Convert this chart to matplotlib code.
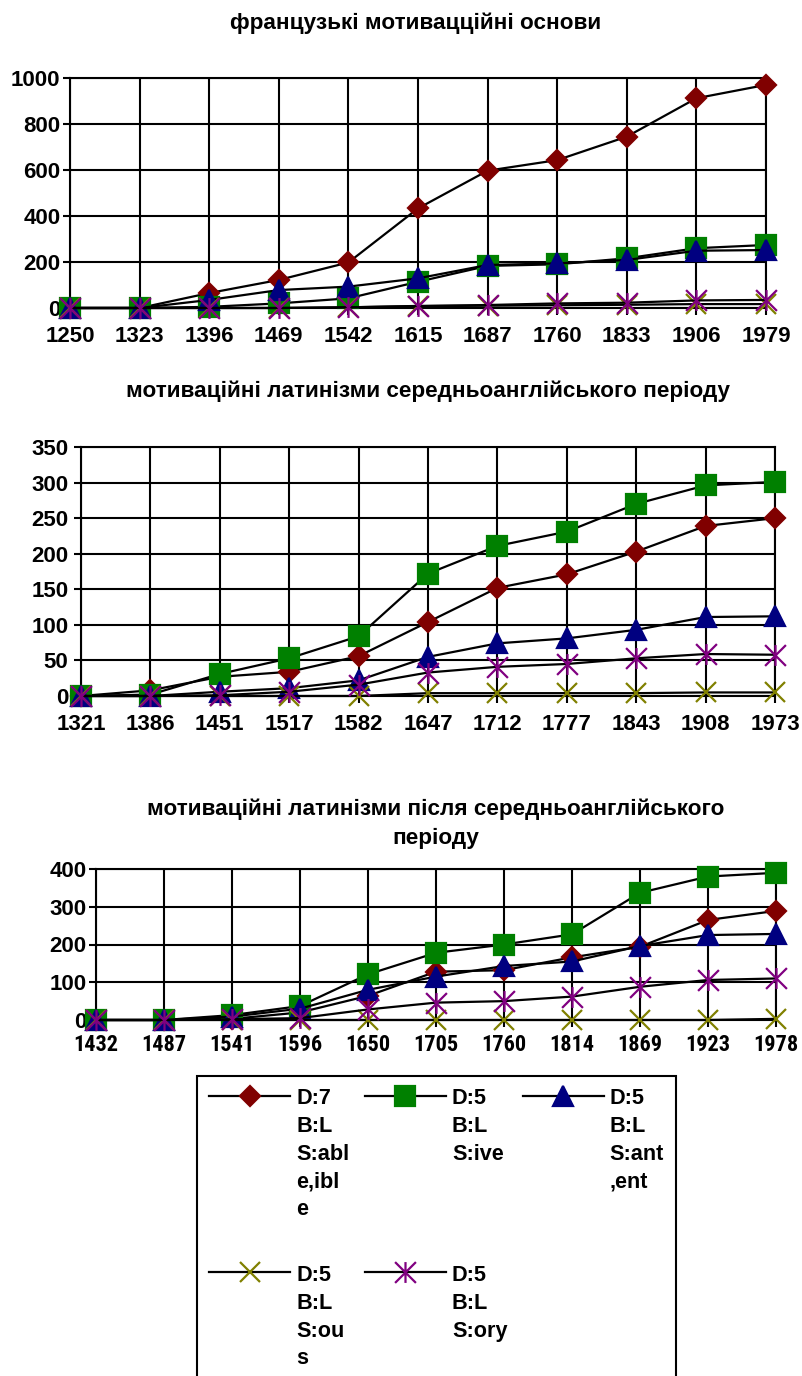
import matplotlib
matplotlib.use('Agg')
import matplotlib.pyplot as plt
import numpy as np
from matplotlib.path import Path
from matplotlib import font_manager

plt.rcParams['font.family'] = ['Liberation Sans', 'DejaVu Sans']
plt.rcParams['font.weight'] = 'bold'

# ---- data ----
titles = ['французькі мотивацційні основи',
          'мотиваційні латинізми середньоанглійського періоду',
          'мотиваційні латинізми після середньоанглійського\nперіоду']

years1 = ['1250', '1323', '1396', '1469', '1542', '1615', '1687', '1760', '1833', '1906', '1979']
years2 = ['1321', '1386', '1451', '1517', '1582', '1647', '1712', '1777', '1843', '1908', '1973']
years3 = ['1432', '1487', '1541', '1596', '1650', '1705', '1760', '1814', '1869', '1923', '1978']

series_labels = ['D:7\nB:L\nS:abl\ne,ibl\ne', 'D:5\nB:L\nS:ive', 'D:5\nB:L\nS:ant\n,ent',
                 'D:5\nB:L\nS:ou\ns', 'D:5\nB:L\nS:ory']

# chart 1: французькі основи
able1 = [0, 0, 65, 122, 198, 433, 597, 643, 745, 912, 970]
ive1 = [0, 0, 5, 20, 42, 114, 183, 190, 216, 260, 274]
ant1 = [0, 0, 35, 78, 93, 129, 187, 194, 209, 249, 252]
ous1 = [0, 0, 0, 0, 3, 8, 10, 12, 14, 17, 17]
ory1 = [0, 0, 0, 0, 3, 9, 13, 20, 23, 33, 35]

# chart 2: середньоанглійський період
able2 = [0, 8, 27, 34, 56, 104, 152, 171, 203, 239, 250]
ive2 = [0, 2, 31, 53, 84, 172, 211, 231, 270, 296, 301]
ant2 = [0, 0, 6, 11, 22, 55, 74, 81, 93, 111, 112]
ous2 = [0, 0, 0, 0, 0, 4, 4, 4, 4, 5, 5]
ory2 = [0, 0, 1, 6, 16, 33, 41, 45, 53, 59, 58]

# chart 3: після середньоанглійського періоду
able3 = [0, 0, 3, 20, 64, 128, 132, 166, 194, 265, 289]
ive3 = [0, 0, 13, 37, 121, 178, 200, 227, 337, 380, 390]
ant3 = [0, 0, 9, 30, 80, 115, 143, 155, 196, 225, 228]
ous3 = [0, 0, 0, 0, 0, 0, 0, 0, 0, 0, 3]
ory3 = [0, 0, 2, 5, 28, 46, 50, 62, 88, 106, 110]

W, H = 802, 1376
fig = plt.figure(figsize=(W / 100, H / 100), dpi=100)

star = Path([(0, -1), (0, 1), (-1, -1), (1, 1), (-1, 1), (1, -1)],
            [Path.MOVETO, Path.LINETO, Path.MOVETO, Path.LINETO, Path.MOVETO, Path.LINETO])
styles = [('#800000', 'D', 10.5), ('#008000', 's', 15), ('#000080', '^', 14),
          ('#808000', 'x', 15), ('#800080', star, 15)]


def rect(l, r, t, b):
    return [l / W, 1 - b / H, (r - l) / W, (b - t) / H]


def make_chart(pos, years, data, ymax, ystep, xpad, ypad):
    ax = fig.add_axes(pos)
    x = np.arange(len(years))
    lines = []
    for vals, (c, m, ms), lab in zip(data, styles, series_labels):
        ln, = ax.plot(x, vals, color='black', lw=1.6, marker=m, ms=ms,
                      mfc=c, mec=c, mew=1.6, clip_on=False, label=lab, zorder=3)
        lines.append(ln)
    ax.set_xlim(0, len(years) - 1)
    ax.set_ylim(0, ymax)
    ax.set_xticks(x, years)
    ax.set_yticks(np.arange(0, ymax + 1, ystep))
    ax.grid(True, color='black', lw=1.5)
    for s in ax.spines.values():
        s.set_linewidth(1.5)
    ax.tick_params(axis='x', length=5, width=1.5, pad=xpad, labelsize=16)
    ax.tick_params(axis='y', length=5, width=1.5, pad=ypad, labelsize=16)
    return ax, lines


ax1, lines1 = make_chart(rect(70, 766, 78, 308), years1,
                         [able1, ive1, ant1, ous1, ory1], 1000, 200, 8, 2)
ax2, lines2 = make_chart(rect(81, 775, 447, 696), years2,
                         [able2, ive2, ant2, ous2, ory2], 350, 50, 8, 4)
ax3, lines3 = make_chart(rect(96, 776, 869, 1020), years3,
                         [able3, ive3, ant3, ous3, ory3], 400, 100, 5, 2)

# the last chart's year labels are squeezed in the original
avail = {f.name for f in font_manager.fontManager.ttflist}
narrow = [f for f in ['Liberation Sans Narrow', 'DejaVu Sans Condensed', 'Roboto Condensed',
                      'Open Sans Condensed'] if f in avail]
if narrow:
    for t in ax3.get_xticklabels():
        t.set_fontfamily([narrow[0], 'Liberation Sans'])

fig.text(416 / W, 1 - 29 / H, titles[0], ha='center', va='baseline', fontsize=16.2)
fig.text(428 / W, 1 - 397 / H, titles[1], ha='center', va='baseline', fontsize=16.2)
fig.text(436 / W, 1 - 844 / H, titles[2], ha='center', va='baseline', fontsize=16.2,
         multialignment='center', linespacing=1.5)

# legend: rows of 3, pad first-row labels so the rows line up
order = [0, 3, 1, 4, 2]
nl = [lab.count('\n') for lab in series_labels]
row1 = max(nl[:3])
labs = []
for i in order:
    pad = row1 - nl[i] if i < 3 else 0
    labs.append(series_labels[i] + '\n' * pad)
leg = fig.legend([lines1[i] for i in order], labs, ncol=3, loc='upper left',
                 bbox_to_anchor=(197 / W, 1 - 1076 / H), borderaxespad=0,
                 borderpad=0.55, handlelength=3.75, handletextpad=0.28,
                 columnspacing=0.7, labelspacing=2.05, fancybox=False,
                 edgecolor='black', framealpha=1, fontsize=15.6)
leg.get_frame().set_linewidth(1.5)
for t in leg.get_texts():
    t.set_linespacing(1.43)
for col in leg._legend_handle_box.get_children():
    for item in col.get_children():
        item.align = 'top'

fig.savefig('out.png', dpi=100)
